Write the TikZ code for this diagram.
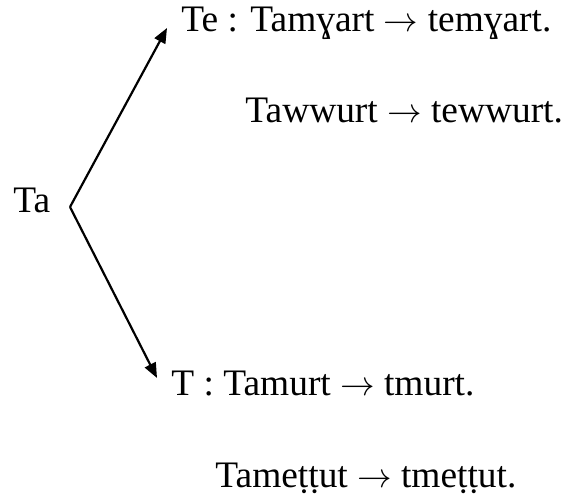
\documentclass[tikz,border=0pt]{standalone}
\usepackage{fontspec}
\setmainfont{Liberation Serif}
\usetikzlibrary{arrows.meta}

\newcommand{\tox}{$\rightarrow$}

\begin{document}
\begin{tikzpicture}[x=0.5pt, y=-0.5pt,
  word/.style={anchor=base west, inner sep=0pt, font=\fontsize{18.7}{21}\selectfont},
  branch/.style={-{Triangle[length=7.5pt, width=6pt]}, line width=1.1pt}]
\useasboundingbox (0,0) rectangle (569,502);
% слова
\node [word] (ta) at (13,213) {Ta};
\node [word] (te) at (181,32) {Te : Tamɣart \tox{} temɣart.};
\node [word] (tawwurt) at (245,123) {Tawwurt \tox{} tewwurt.};
\node [word] (t) at (171,396) {T : Tamurt \tox{} tmurt.};
\node [word] (tamettut) at (215,488) {Tameṭṭut \tox{} tmeṭṭut.};
% стрелки
\coordinate (split) at (70,207);
\coordinate (up) at (167,28);
\coordinate (down) at (157,378);
\draw [branch] (split) -- (up);
\draw [branch] (split) -- (down);
\end{tikzpicture}
\end{document}
